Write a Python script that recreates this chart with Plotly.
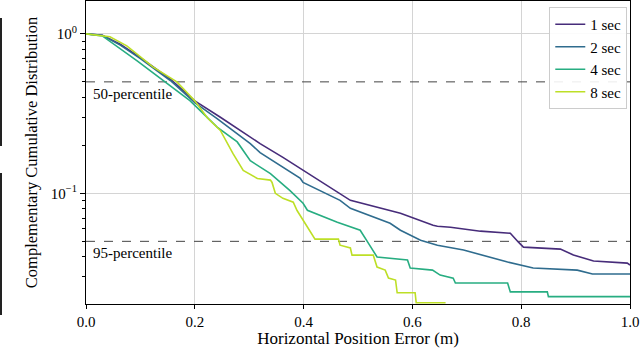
import numpy as np
import plotly.graph_objects as go

x_1s = [0, 0.03, 0.063, 0.1, 0.155, 0.2, 0.247, 0.302, 0.32, 0.362, 0.394, 0.399, 0.449, 0.486,
        0.578, 0.602, 0.638, 0.646, 0.67, 0.725, 0.78, 0.795, 0.804, 0.872, 0.896, 0.933, 0.995, 1.0]
y_1s = [1.0, 0.98, 0.86, 0.71, 0.52, 0.38, 0.3, 0.224, 0.205, 0.168, 0.143, 0.139, 0.109, 0.0904,
        0.075, 0.0698, 0.063, 0.0622, 0.0613, 0.0579, 0.0562, 0.0494, 0.046, 0.0447, 0.041, 0.0376, 0.0365, 0.0355]

x_2s = [0, 0.03, 0.063, 0.1, 0.155, 0.2, 0.241, 0.302, 0.32, 0.362, 0.394, 0.399, 0.467, 0.486,
        0.52, 0.559, 0.578, 0.602, 0.615, 0.646, 0.694, 0.775, 0.802, 0.822, 0.903, 0.931, 1.0]
y_2s = [1.0, 0.98, 0.85, 0.7, 0.51, 0.37, 0.294, 0.205, 0.18, 0.145, 0.124, 0.117, 0.0904, 0.0806,
        0.073, 0.0649, 0.0587, 0.0531, 0.0508, 0.0473, 0.0441, 0.0371, 0.0355, 0.034, 0.033, 0.0312, 0.0312]

x_4s = [0, 0.03, 0.094, 0.145, 0.191, 0.21, 0.241, 0.278, 0.302, 0.339, 0.375, 0.399, 0.407, 0.462,
        0.504, 0.519, 0.535, 0.591, 0.596, 0.637, 0.651, 0.675, 0.679, 0.775, 0.78, 0.848, 0.85, 1.0]
y_4s = [1.0, 0.97, 0.678, 0.5, 0.381, 0.33, 0.26, 0.21, 0.16, 0.133, 0.104, 0.0866, 0.0783, 0.0658,
        0.0587, 0.0487, 0.0399, 0.0382, 0.034, 0.033, 0.0307, 0.0294, 0.0274, 0.0274, 0.0241, 0.0241, 0.0225, 0.0225]

x_8s = [0, 0.044, 0.075, 0.123, 0.167, 0.2, 0.223, 0.247, 0.27, 0.289, 0.315, 0.339, 0.342, 0.348,
        0.362, 0.381, 0.388, 0.399, 0.416, 0.421, 0.464, 0.467, 0.486, 0.489, 0.528, 0.535, 0.55,
        0.556, 0.569, 0.572, 0.605, 0.607, 0.661]
y_8s = [1.0, 0.958, 0.841, 0.62, 0.5, 0.38, 0.298, 0.248, 0.178, 0.139, 0.124, 0.121, 0.117, 0.1,
        0.093, 0.088, 0.078, 0.068, 0.0546, 0.0516, 0.0516, 0.0473, 0.0454, 0.041, 0.041, 0.0345, 0.033,
        0.0294, 0.0286, 0.0238, 0.0238, 0.0206, 0.0206]

series = [("1 sec", x_1s, y_1s, "#472c7a"),
          ("2 sec", x_2s, y_2s, "#2f6c8e"),
          ("4 sec", x_4s, y_4s, "#27ad81"),
          ("8 sec", x_8s, y_8s, "#bddf26")]

percentiles = [0.5, 0.05]
percentile_labels = ["50-percentile", "95-percentile"]

font = "Liberation Serif, Times New Roman, serif"

fig = go.Figure()
for lvl in percentiles:
    fig.add_trace(go.Scatter(x=[0, 1], y=[lvl, lvl], mode="lines", showlegend=False,
                             line=dict(color="#444444", width=1, dash="dash"), hoverinfo="skip"))
for name, xs, ys, col in series:
    fig.add_trace(go.Scatter(x=xs, y=ys, mode="lines", name=name, line=dict(color=col, width=1.6)))

for lvl, lab in zip(percentiles, percentile_labels):
    fig.add_annotation(x=0.01, y=np.log10(lvl) - 0.075, text=lab, showarrow=False,
                       xanchor="left", yanchor="middle", font=dict(size=15, color="black"))

minor_vals = [m * 10.0 ** e for e in (-2, -1, 0) for m in range(2, 10)]

fig.update_layout(
    width=640, height=348,
    margin=dict(l=86, r=10, t=1, b=44),
    paper_bgcolor="white", plot_bgcolor="white",
    font=dict(family=font, size=15, color="black"),
    legend=dict(x=0.995, y=0.98, xanchor="right", yanchor="top",
                bgcolor="rgba(255,255,255,0.9)", bordercolor="#cccccc", borderwidth=1,
                font=dict(size=15), tracegroupgap=0),
    xaxis=dict(range=[0, 1], tickvals=[0, 0.2, 0.4, 0.6, 0.8, 1.0], tickformat=".1f",
               showgrid=True, gridcolor="#d4d4d4", gridwidth=1, zeroline=False,
               showline=True, linecolor="black", linewidth=1.2, mirror=True,
               ticks="outside", ticklen=4, tickcolor="black",
               title=dict(text="Horizontal Position Error (m)", font=dict(size=17), standoff=4)),
    yaxis=dict(type="log", range=[-1.694, 0.206], tickvals=[0.1, 1],
               ticktext=["10<sup>\u22121</sup>", "10<sup>0</sup>"],
               showgrid=True, gridcolor="#d4d4d4", gridwidth=1, zeroline=False,
               showline=True, linecolor="black", linewidth=1.2, mirror=True,
               ticks="outside", ticklen=5, tickcolor="black",
               minor=dict(tickvals=minor_vals, ticks="outside", ticklen=3, tickcolor="black", showgrid=False),
               title=dict(text="Complementary Cumulative Distribution", font=dict(size=16.5), standoff=8)),
)

# stray marks at the left edge of the original figure
for y0, y1 in [(18, 146), (173, 315)]:
    fig.add_shape(type="line", xref="paper", yref="paper",
                  x0=-85 / 544, x1=-85 / 544, y0=(304 - y0) / 303, y1=(304 - y1) / 303,
                  line=dict(color="#222222", width=2))

fig.write_html("out.html", config={"displayModeBar": False},
               post_script="document.body.style.margin='0';")
